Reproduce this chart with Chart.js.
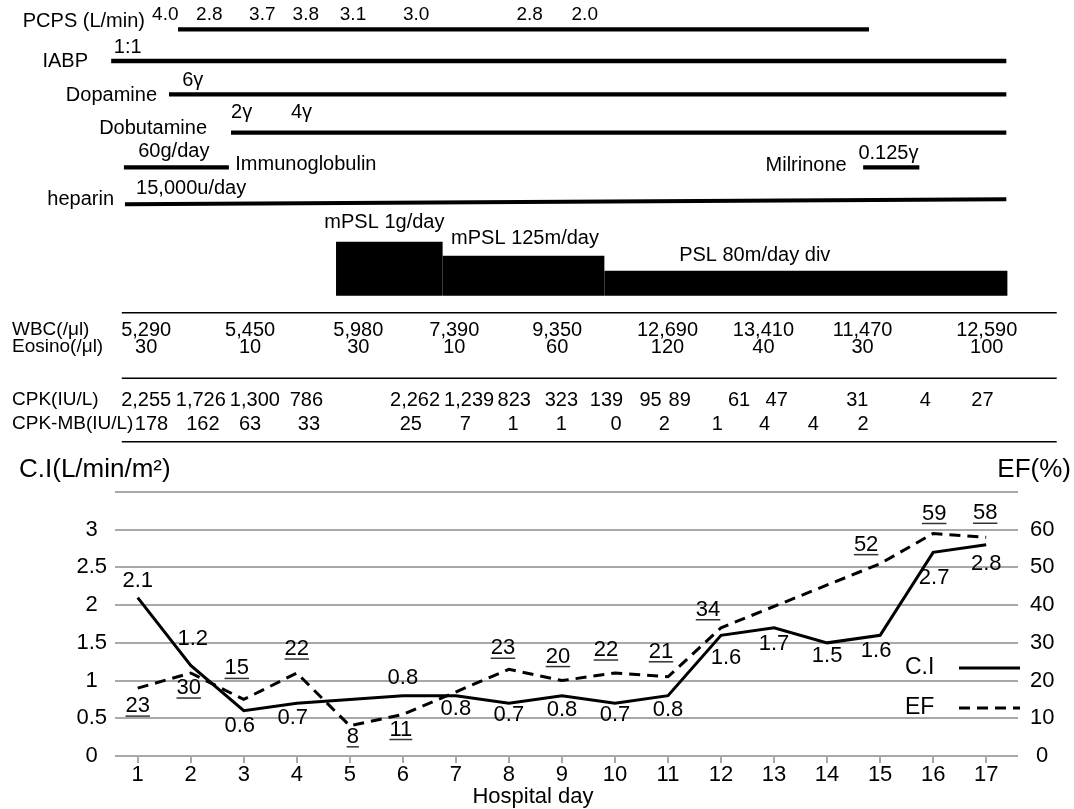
<!DOCTYPE html>
<html>
<head>
<meta charset="utf-8">
<script src="https://cdn.jsdelivr.net/npm/chart.js@4.4.0/dist/chart.umd.min.js"></script>
<style>
    html, body { margin: 0; padding: 0; background: #fff; }
    canvas { display: block; }
</style>
</head>
<body>
<canvas id="graficoCaso" width="1074" height="809"></canvas>
<script>
// hospital days and the two measured series
const days = [1, 2, 3, 4, 5, 6, 7, 8, 9, 10, 11, 12, 13, 14, 15, 16, 17];
const ciValues = [2.1, 1.2, 0.6, 0.7, null, 0.8, 0.8, 0.7, 0.8, 0.7, 0.8, 1.6, 1.7, 1.5, 1.6, 2.7, 2.8];
const ciLabels = ['2.1', '1.2', '0.6', '0.7', '', '0.8', '0.8', '0.7', '0.8', '0.7', '0.8', '1.6', '1.7', '1.5', '1.6', '2.7', '2.8'];
const efValues = [18, 22, 15, 22, 8, 11, null, 23, 20, 22, 21, 34, null, null, 51, 59, 58];
const efLabels = ['23', '30', '15', '22', '8', '11', '', '23', '20', '22', '21', '34', '', '', '52', '59', '58'];
const ciTicks = [0, 0.5, 1, 1.5, 2, 2.5, 3, 3.5];
const efTicks = [0, 10, 20, 30, 40, 50, 60, 70];

// treatment periods, in hospital days
const pcpsPeriod = [1.76, 14.79];
const pcpsFlow = ['4.0', '2.8', '3.7', '3.8', '3.1', '3.0', '2.8', '2.0'];
const pcpsFlowDays = [1.52, 2.35, 3.35, 4.17, 5.06, 6.25, 8.39, 9.43];
const iabpPeriod = [0.50, 17.38];
const dopaminePeriod = [1.59, 17.38];
const dobutaminePeriod = [2.76, 17.38];
const immunoglobulinPeriod = [0.74, 2.72];
const heparinPeriod = [0.76, 17.38];
const milrinonePeriod = [14.68, 15.74];
const steroidSteps = [4.74, 6.75, 9.80, 17.40];

// doses written next to the treatment lines: text, day where it starts
const doseNotes = [
    ['1:1', 0.55], ['6γ', 1.84], ['2γ', 2.76], ['4γ', 3.89], ['60g/day', 1.01],
    ['Immunoglobulin', 2.84], ['15,000u/day', 0.97], ['mPSL 1g/day', 4.52],
    ['mPSL 125m/day', 6.91], ['PSL 80m/day div', 11.21], ['Milrinone', 12.84], ['0.125γ', 14.59]
];

// laboratory table
const wbcDays = [1.16, 3.12, 5.16, 6.97, 8.91, 10.99, 12.80, 14.67, 17.01];
const wbc = ['5,290', '5,450', '5,980', '7,390', '9,350', '12,690', '13,410', '11,470', '12,590'];
const eosino = ['30', '10', '30', '10', '60', '120', '40', '30', '100'];
const cpkDays = [1.16, 2.19, 3.21, 4.18, 6.23, 7.25, 8.10, 8.99, 9.84, 10.67, 11.22, 12.34, 13.05, 14.57, 15.85, 16.93];
const cpk = ['2,255', '1,726', '1,300', '786', '2,262', '1,239', '823', '323', '139', '95', '89', '61', '47', '31', '4', '27'];
const cpkMbDays = [1.26, 2.23, 3.12, 4.23, 6.15, 7.18, 8.08, 8.99, 10.02, 10.93, 11.93, 12.82, 13.74, 14.68];
const cpkMb = ['178', '162', '63', '33', '25', '7', '1', '1', '0', '2', '1', '4', '4', '2'];
const tableSpan = [0.70, 18.33];

// ---- layout (page pixels) ----
const FONT = '"Liberation Sans", Arial, Helvetica, sans-serif';
const PLOT_TOP = 492;
const PLOT_BOTTOM = 756;
const rows = {
    pcps: 29.3, pcpsFlow: 15, iabp: 61, iabpNote: 47.7, dopamine: 94.3, dopamineNote: 80,
    dobutamine: 132.7, dobutamineNote: 112, immuno: 167.3, immunoNote: 151.7, immunoName: 164.3,
    heparin: [204.3, 199.3], heparinNote: 188.3, milrinoneName: 165, milrinoneNote: 153.3,
    mpsl1: 222.7, mpsl2: 238.3, psl: 255, steroidBottom: 295.7,
    rule1: 312.7, wbc: 330, eosino: 347, rule2: 378.3, cpk: 400, cpkMb: 424, rule3: 441.7
};
const noteRows = ['iabpNote', 'dopamineNote', 'dobutamineNote', 'dobutamineNote', 'immunoNote',
    'immunoName', 'heparinNote', 'mpsl1', 'mpsl2', 'psl', 'milrinoneName', 'milrinoneNote'];
const steroidThickness = [54, 40, 25];
const ciLabelShift = [[0, -17], [2, -27], [-4, 15], [-4, 15], [0, 0], [0, -18], [0, 13], [0, 12], [0, 14],
    [0, 12], [0, 14], [5, 23], [0, 16], [0, 13], [-4, 16], [1, 26], [0, 19]];
const efLabelShift = [[0, 18], [-2, 15], [-7, -31], [0, -24], [3, 11], [-2, 15], [0, 0], [-6, -21], [-4, -24],
    [-9, -23], [-7, -25], [-13, -18], [0, 0], [0, 0], [-14, -19], [1, -20], [-1, -24]];

function segment(period, y, width) {
    const y0 = Array.isArray(y) ? y[0] : y;
    const y1 = Array.isArray(y) ? y[1] : y;
    return {
        data: [{ x: period[0], y: y0 }, { x: period[1], y: y1 }],
        yAxisID: 'page',
        borderColor: '#000',
        borderWidth: width,
        borderCapStyle: 'butt',
        pointRadius: 0,
        clip: false
    };
}

const timeline = [
    segment(pcpsPeriod, rows.pcps, 4.3),
    segment(iabpPeriod, rows.iabp, 4.3),
    segment(dopaminePeriod, rows.dopamine, 4.3),
    segment(dobutaminePeriod, rows.dobutamine, 4.3),
    segment(immunoglobulinPeriod, rows.immuno, 4.3),
    segment(heparinPeriod, rows.heparin, 4),
    segment(milrinonePeriod, rows.immuno, 4.3),
    segment(tableSpan, rows.rule1, 1.5),
    segment(tableSpan, rows.rule2, 1.5),
    segment(tableSpan, rows.rule3, 1.5)
];
steroidThickness.forEach((t, i) => {
    timeline.push(segment([steroidSteps[i], steroidSteps[i + 1]], rows.steroidBottom - t / 2, t));
});

function write(ctx, text, x, y, align, size) {
    ctx.font = size + 'px ' + FONT;
    ctx.textAlign = align;
    ctx.textBaseline = 'middle';
    ctx.fillStyle = '#000';
    ctx.fillText(text, x, y);
}

const annotations = {
    id: 'annotations',
    afterDatasetsDraw(chart) {
        const ctx = chart.ctx;
        const sx = chart.scales.x;
        const sy = chart.scales.y;
        const sy2 = chart.scales.y2;
        const px = d => sx.getPixelForValue(d);
        ctx.save();

        // treatment rows
        write(ctx, 'PCPS (L/min)', 145, 21.7, 'right', 20);
        write(ctx, 'IABP', 88, 61.7, 'right', 20);
        write(ctx, 'Dopamine', 157, 95, 'right', 20);
        write(ctx, 'Dobutamine', 207, 128.3, 'right', 20);
        write(ctx, 'heparin', 114, 199.3, 'right', 20);
        pcpsFlow.forEach((t, i) => write(ctx, t, px(pcpsFlowDays[i]), rows.pcpsFlow, 'center', 19));
        doseNotes.forEach((n, i) => write(ctx, n[0], px(n[1]), rows[noteRows[i]], 'left', 20));

        // table
        write(ctx, 'WBC(/μl)', 12, rows.wbc, 'left', 19);
        write(ctx, 'Eosino(/μl)', 12, rows.eosino, 'left', 19);
        write(ctx, 'CPK(IU/L)', 12, rows.cpk, 'left', 19);
        write(ctx, 'CPK-MB(IU/L)', 12, rows.cpkMb, 'left', 19);
        wbc.forEach((t, i) => write(ctx, t, px(wbcDays[i]), rows.wbc, 'center', 20));
        eosino.forEach((t, i) => write(ctx, t, px(wbcDays[i]), rows.eosino, 'center', 20));
        cpk.forEach((t, i) => write(ctx, t, px(cpkDays[i]), rows.cpk, 'center', 20));
        cpkMb.forEach((t, i) => write(ctx, t, px(cpkMbDays[i]), rows.cpkMb, 'center', 20));

        // axis titles
        write(ctx, 'C.I(L/min/m²)', 19, 470, 'left', 26);
        write(ctx, 'EF(%)', 1071, 470, 'right', 26);
        write(ctx, 'Hospital day', 533, 797, 'center', 22);

        // point labels
        days.forEach((d, i) => {
            if (ciLabels[i]) {
                const s = ciLabelShift[i];
                write(ctx, ciLabels[i], px(d) + s[0], sy.getPixelForValue(ciValues[i]) + s[1], 'center', 22);
            }
            if (efLabels[i]) {
                const s = efLabelShift[i];
                const x = px(d) + s[0];
                const y = sy2.getPixelForValue(efValues[i]) + s[1];
                write(ctx, efLabels[i], x, y, 'center', 22);
                const w = ctx.measureText(efLabels[i]).width;
                ctx.strokeStyle = '#333';
                ctx.lineWidth = 1.5;
                ctx.beginPath();
                ctx.moveTo(x - w / 2, y + 10);
                ctx.lineTo(x + w / 2, y + 10);
                ctx.stroke();
            }
        });

        // legend
        write(ctx, 'C.I', 905, 668, 'left', 23);
        write(ctx, 'EF', 905, 708, 'left', 23);
        ctx.strokeStyle = '#000';
        ctx.lineWidth = 3;
        ctx.beginPath();
        ctx.moveTo(959, 668);
        ctx.lineTo(1020, 668);
        ctx.stroke();
        ctx.setLineDash([11, 7]);
        ctx.beginPath();
        ctx.moveTo(959, 708);
        ctx.lineTo(1020, 708);
        ctx.stroke();
        ctx.restore();
    }
};

const tickFont = { family: FONT, size: 22 };
const gridGray = '#a8a8a8';

new Chart(document.getElementById('graficoCaso'), {
    type: 'line',
    data: {
        datasets: [
            {
                label: 'C.I',
                data: days.map((d, i) => ({ x: d, y: ciValues[i] })),
                yAxisID: 'y',
                borderColor: '#000',
                borderWidth: 3,
                pointRadius: 0,
                spanGaps: true,
                tension: 0
            },
            {
                label: 'EF',
                data: days.map((d, i) => ({ x: d, y: efValues[i] })),
                yAxisID: 'y2',
                borderColor: '#000',
                borderWidth: 3,
                borderDash: [11, 7],
                pointRadius: 0,
                spanGaps: true,
                tension: 0
            },
            ...timeline
        ]
    },
    options: {
        responsive: false,
        animation: false,
        events: [],
        devicePixelRatio: 1,
        layout: { padding: { left: 55, right: 16, top: PLOT_TOP, bottom: 20 } },
        plugins: { legend: { display: false }, tooltip: { enabled: false } },
        scales: {
            x: {
                type: 'linear',
                min: 0.572,
                max: 17.6,
                afterBuildTicks: s => { s.ticks = days.map(d => ({ value: d })); },
                ticks: { font: tickFont, color: '#000', padding: -1, maxRotation: 0, autoSkip: false },
                grid: { drawOnChartArea: false, drawTicks: true, tickLength: 7, color: gridGray, lineWidth: 2 },
                border: { display: false },
                afterFit: s => { s.height = 33; s.paddingLeft = 0; s.paddingRight = 0; }
            },
            y: {
                position: 'left',
                min: 0,
                max: 3.5,
                afterBuildTicks: s => { s.ticks = ciTicks.map(v => ({ value: v })); },
                ticks: {
                    font: tickFont, color: '#000', padding: 8, crossAlign: 'center',
                    callback: v => v === 3.5 ? '' : String(v)
                },
                grid: { color: gridGray, lineWidth: 2, drawTicks: false },
                border: { display: false },
                afterFit: s => { s.width = 60; s.paddingTop = 0; s.paddingBottom = 0; }
            },
            y2: {
                position: 'right',
                min: 0,
                max: 70,
                afterBuildTicks: s => { s.ticks = efTicks.map(v => ({ value: v })); },
                ticks: {
                    font: tickFont, color: '#000', padding: 12, crossAlign: 'center',
                    callback: v => v === 70 ? '' : String(v)
                },
                grid: { drawOnChartArea: false, drawTicks: false },
                border: { display: false },
                afterFit: s => { s.width = 40; s.paddingTop = 0; s.paddingBottom = 0; }
            },
            page: {
                type: 'linear',
                display: false,
                reverse: true,
                min: PLOT_TOP,
                max: PLOT_BOTTOM
            }
        }
    },
    plugins: [annotations]
});
</script>
</body>
</html>
